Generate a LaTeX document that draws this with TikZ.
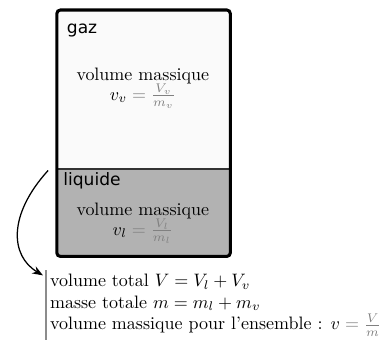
\documentclass[tikz,border=0pt]{standalone}
\usepackage{fontspec}
\usepackage{amsmath}
\newfontfamily\labelfont{DejaVu Sans}
\usetikzlibrary{arrows.meta, positioning}

\begin{document}
\begin{tikzpicture}[
		phase/.style={draw=none, inner sep=0pt, align=center},
		tag/.style={draw=none, inner sep=0pt, anchor=west, font=\labelfont\fontsize{9.5}{11}\selectfont},
		wall/.style={line width=1.7pt, rounded corners=2pt},
		interface/.style={line width=0.8pt, color=black!80},
		bilan/.style={draw=none, align=left, anchor=north west, inner sep=2pt},
		bilanbar/.style={line width=0.8pt, color=gray!90},
		mainarrow/.style={-{Stealth[length=6pt]}, line width=0.7pt}
		]
		
		\useasboundingbox (0,0) rectangle (7.6,-6.72);
		
		% --- Container: gas above, liquid below ---
		\fill[gray!4, rounded corners=2pt] (1.11,-0.195) rectangle (4.50,-3.30);
		\fill[gray!60, rounded corners=2pt] (1.11,-3.30) rectangle (4.50,-5.01);
		\draw[interface] (1.11,-3.30) -- (4.50,-3.30);
		\draw[wall] (1.11,-0.195) rectangle (4.50,-5.01);
		
		% --- Labels ---
		\node[tag] (gaz) at (1.30,-0.59) {gaz};
		\node[tag] (liq) at (1.23,-3.53) {liquide};
		
		\node[phase] (vgaz) at (2.79,-1.72) {volume massique\\[-1pt]
			$v_v \mathrel{\textcolor{gray}{=}} \textcolor{gray}{\frac{V_v}{m_v}}$};
		\node[phase] (vliq) at (2.79,-4.36) {volume massique\\[-1pt]
			$v_l \mathrel{\textcolor{gray}{=}} \textcolor{gray}{\frac{V_l}{m_l}}$};
		
		% --- Totals ---
		\node[bilan] (tot) at (0.90,-5.28) {volume total $V = V_l + V_v$\\
			masse totale $m = m_l + m_v$\\
			volume massique pour l'ensemble : $v \mathrel{\textcolor{gray}{=}} \textcolor{gray}{\frac{V}{m}}$};
		\draw[bilanbar] (tot.north west) -- (tot.south west);
		
		% --- Arrow ---
		\coordinate (start) at (0.94,-3.33);
		\coordinate (stop) at (0.84,-5.38);
		\draw[mainarrow] (start) .. controls (0.15,-4.2) and (0.2,-5.0) .. (stop);
		
	\end{tikzpicture}
\end{document}
